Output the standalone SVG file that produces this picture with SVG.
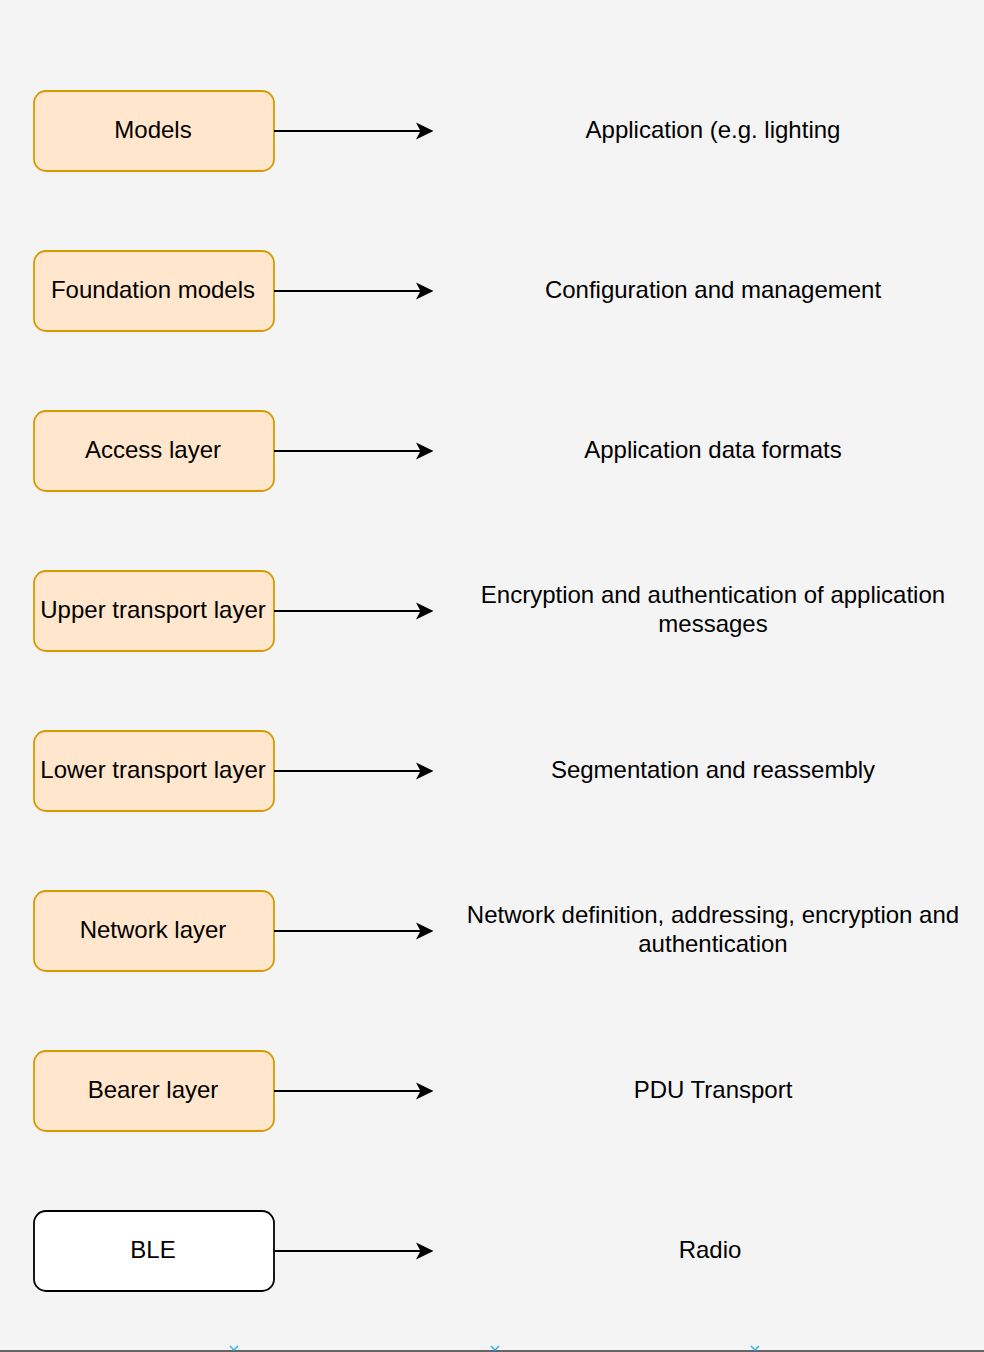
<svg xmlns="http://www.w3.org/2000/svg" width="984" height="1352" viewBox="0 0 984 1352">
  <defs>
    <style>
      .layer rect { fill: #ffe6cc; stroke: #d79b00; stroke-width: 1.8; }
      .plain rect { fill: #ffffff; stroke: #000000; stroke-width: 1.8; }
      text { font-family: "Liberation Sans", Arial, Helvetica, sans-serif; font-size: 24px; fill: #000000; text-anchor: middle; }
      .edge { stroke: #000000; stroke-width: 1.8; fill: none; }
      .head { fill: #000000; stroke: none; }
      .tick { stroke: #29b6f2; stroke-width: 1.5; fill: none; }
    </style>
  </defs>

  <!-- canvas -->
  <rect x="0" y="0" width="984" height="1352" fill="#f4f4f4"/>

  <!-- stack layers (left column) -->
  <g id="models" class="layer">
    <rect x="34" y="91" width="240" height="80" rx="12" ry="12"/>
    <text x="153" y="138">Models</text>
  </g>
  <g id="foundation-models" class="layer">
    <rect x="34" y="251" width="240" height="80" rx="12" ry="12"/>
    <text x="153" y="298">Foundation models</text>
  </g>
  <g id="access-layer" class="layer">
    <rect x="34" y="411" width="240" height="80" rx="12" ry="12"/>
    <text x="153" y="458">Access layer</text>
  </g>
  <g id="upper-transport-layer" class="layer">
    <rect x="34" y="571" width="240" height="80" rx="12" ry="12"/>
    <text x="153" y="618">Upper transport layer</text>
  </g>
  <g id="lower-transport-layer" class="layer">
    <rect x="34" y="731" width="240" height="80" rx="12" ry="12"/>
    <text x="153" y="778">Lower transport layer</text>
  </g>
  <g id="network-layer" class="layer">
    <rect x="34" y="891" width="240" height="80" rx="12" ry="12"/>
    <text x="153" y="938">Network layer</text>
  </g>
  <g id="bearer-layer" class="layer">
    <rect x="34" y="1051" width="240" height="80" rx="12" ry="12"/>
    <text x="153" y="1098">Bearer layer</text>
  </g>
  <g id="ble" class="plain">
    <rect x="34" y="1211" width="240" height="80" rx="12" ry="12"/>
    <text x="153" y="1258">BLE</text>
  </g>

  <!-- descriptions (right column) -->
  <g id="desc-models"><text x="713" y="138">Application (e.g. lighting</text></g>
  <g id="desc-foundation"><text x="713" y="298">Configuration and management</text></g>
  <g id="desc-access"><text x="713" y="458">Application data formats</text></g>
  <g id="desc-upper">
    <text x="713" y="603">Encryption and authentication of application</text>
    <text x="713" y="632">messages</text>
  </g>
  <g id="desc-lower"><text x="713" y="778">Segmentation and reassembly</text></g>
  <g id="desc-network">
    <text x="713" y="923">Network definition, addressing, encryption and</text>
    <text x="713" y="952">authentication</text>
  </g>
  <g id="desc-bearer"><text x="713" y="1098">PDU Transport</text></g>
  <g id="desc-ble"><text x="710" y="1258">Radio</text></g>

  <!-- connectors -->
  <g id="connectors">
    <path class="edge" d="M274 131H422"/><path class="head" d="M433.5 131L416 122.5L420.5 131L416 139.5Z"/>
    <path class="edge" d="M274 291H422"/><path class="head" d="M433.5 291L416 282.5L420.5 291L416 299.5Z"/>
    <path class="edge" d="M274 451H422"/><path class="head" d="M433.5 451L416 442.5L420.5 451L416 459.5Z"/>
    <path class="edge" d="M274 611H422"/><path class="head" d="M433.5 611L416 602.5L420.5 611L416 619.5Z"/>
    <path class="edge" d="M274 771H422"/><path class="head" d="M433.5 771L416 762.5L420.5 771L416 779.5Z"/>
    <path class="edge" d="M274 931H422"/><path class="head" d="M433.5 931L416 922.5L420.5 931L416 939.5Z"/>
    <path class="edge" d="M274 1091H422"/><path class="head" d="M433.5 1091L416 1082.5L420.5 1091L416 1099.5Z"/>
    <path class="edge" d="M274 1251H422"/><path class="head" d="M433.5 1251L416 1242.5L420.5 1251L416 1259.5Z"/>
  </g>

  <!-- bottom border with small markers -->
  <rect x="0" y="1350" width="984" height="2" fill="#666666"/>
  <path class="tick" d="M230 1346L234 1350L238 1346M491 1346L495 1350L499 1346M751 1346L755 1350L759 1346"/>
</svg>
